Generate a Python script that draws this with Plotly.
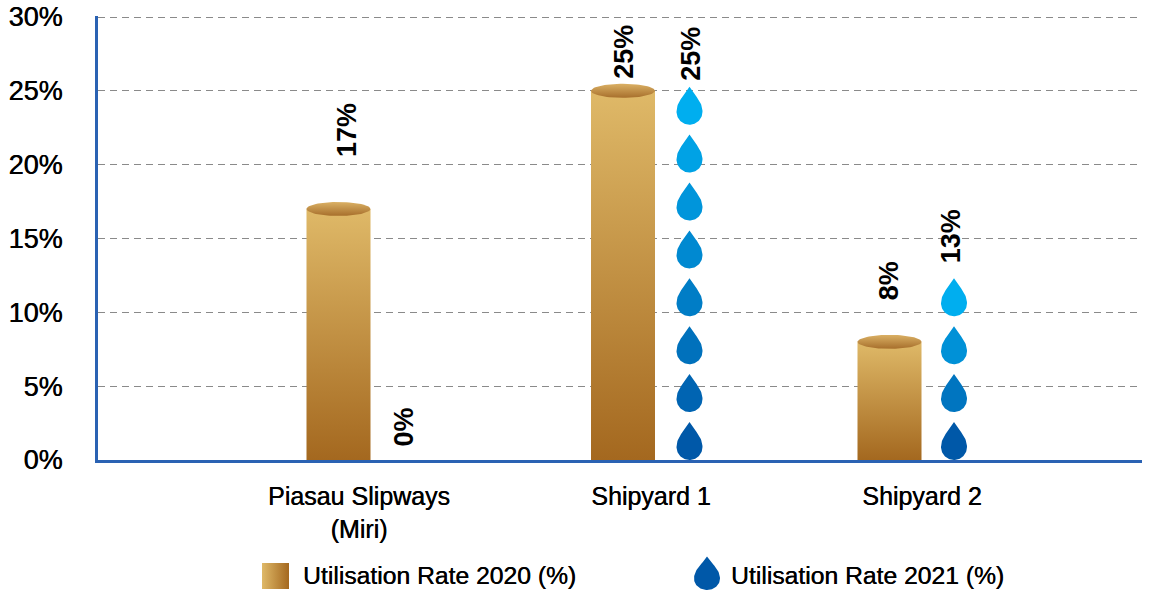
import math
import plotly.graph_objects as go

# Chart data
categories = ["Piasau Slipways<br>(Miri)", "Shipyard 1", "Shipyard 2"]
rate_2020 = [17, 25, 8]
rate_2021 = [0, 25, 13]
series_names = ["Utilisation Rate 2020 (%)", "Utilisation Rate 2021 (%)"]
y_ticks = [0, 5, 10, 15, 20, 25, 30]

# One drop stands for this many percentage points
DROP_UNIT = 3.25

# Page geometry, in pixels
W, H = 1155, 591
PLOT_L, PLOT_R, PLOT_T, PLOT_B = 98, 1142, 17, 460
# Slight headroom keeps the 30% gridline from being dropped at the axis end
Y_MAX = 30.1
PX_PER_UNIT = (PLOT_B - PLOT_T) / 30
PLOT_TOP = PLOT_B - Y_MAX * PX_PER_UNIT

# Horizontal placement along the category axis (axis units are pixels from the left spine)
tick_x = [261, 553, 824]
bar_x = [240.5, 525, 791.5]
drop_x = [306, 591.5, 856]
bar_label_x = [249, 526, 791]
drop_label_x = [306, 593, 853]
# Distance from the top of each mark up to its rotated label, in pixels
bar_label_lift = [50, 10, 39]
drop_label_lift = [11, 4, 13]

BAR_HALF = 32
CAP_HALF_PX = 7
DROP_HALF = 13
DROP_PX = 38
DROP_PITCH_PX = 47.9

GOLD_TOP, GOLD_BOTTOM = "#dfb968", "#a4681f"
CAP_TOP, CAP_BOTTOM = "#dab064", "#a76f2c"
BLUE_DARK, BLUE_LIGHT = (0, 88, 168), (0, 174, 239)
FONT = "Liberation Sans"
HEAVIER = "0.35px 0 0 #000000"


def blend(a, b, t):
    return "rgb({},{},{})".format(*[round(a[i] + (b[i] - a[i]) * t) for i in range(3)])


def drop_outline(steps=24):
    """Teardrop outline with a bulb of radius 1, tip pointing up."""
    r = 1.0
    h = DROP_PX / DROP_HALF
    pts = []
    # right flank, bezier from the tip down to the bulb
    p0, p1, p2, p3 = (0, h), (0.42, h - 0.7), (r, h - 1.15), (r, r)
    for i in range(steps + 1):
        t = i / steps
        u = 1 - t
        pts.append((
            u**3 * p0[0] + 3 * u*u*t * p1[0] + 3 * u*t*t * p2[0] + t**3 * p3[0],
            u**3 * p0[1] + 3 * u*u*t * p1[1] + 3 * u*t*t * p2[1] + t**3 * p3[1],
        ))
    # round bottom
    for i in range(1, steps * 2):
        a = math.pi * i / (steps * 2)
        pts.append((r * math.cos(a), r - r * math.sin(a)))
    # left flank mirrors the right one
    right = pts[:steps + 1]
    pts += [(-x, y) for x, y in reversed(right)]
    return pts


OUTLINE = drop_outline()

fig = go.Figure()


def add_filled(xs, ys, xa="x", ya="y", **kw):
    fig.add_trace(go.Scatter(
        x=xs, y=ys, mode="lines", fill="toself", line=dict(width=0),
        xaxis=xa, yaxis=ya, hoverinfo="skip", showlegend=False, **kw))


# Cylinders for 2020
for cx, v in zip(bar_x, rate_2020):
    add_filled(
        [cx - BAR_HALF, cx - BAR_HALF, cx + BAR_HALF, cx + BAR_HALF, cx - BAR_HALF],
        [0, v, v, 0, 0],
        fillgradient=dict(type="vertical", colorscale=[[0, GOLD_BOTTOM], [1, GOLD_TOP]]),
    )
    cap_r = CAP_HALF_PX / PX_PER_UNIT
    angles = [2 * math.pi * i / 72 for i in range(73)]
    add_filled(
        [cx + BAR_HALF * math.cos(a) for a in angles],
        [v + cap_r * math.sin(a) for a in angles],
        fillgradient=dict(type="vertical", colorscale=[[0, CAP_BOTTOM], [1, CAP_TOP]]),
    )

# Stacks of drops for 2021
for cx, v in zip(drop_x, rate_2021):
    n = round(v / DROP_UNIT)
    for k in range(n):
        base = k * DROP_PITCH_PX / PX_PER_UNIT
        colour = blend(BLUE_DARK, BLUE_LIGHT, k / (n - 1) if n > 1 else 1)
        add_filled(
            [cx + DROP_HALF * x for x, _ in OUTLINE],
            [base + y * DROP_HALF / PX_PER_UNIT for _, y in OUTLINE],
            fillcolor=colour,
        )


def stack_top(v):
    n = round(v / DROP_UNIT)
    return ((n - 1) * DROP_PITCH_PX + DROP_PX) / PX_PER_UNIT if n else 0


label_font = dict(family=FONT, size=27, color="#000000", weight="bold")
annotations = []
for x, v, lift in zip(bar_label_x, rate_2020, bar_label_lift):
    annotations.append(dict(x=x, y=v, xref="x", yref="y", text=f"{v}%", textangle=-90,
                            showarrow=False, yanchor="bottom", yshift=lift, font=label_font))
for x, v, lift in zip(drop_label_x, rate_2021, drop_label_lift):
    annotations.append(dict(x=x, y=stack_top(v), xref="x", yref="y", text=f"{v}%", textangle=-90,
                            showarrow=False, yanchor="bottom", yshift=lift, font=label_font))

# Hand-built legend, on a full-page pixel axis pair
add_filled([262, 262, 289, 289, 262], [563, 589, 589, 563, 563], "x2", "y2",
           fillgradient=dict(type="horizontal", colorscale=[[0, GOLD_TOP], [1, GOLD_BOTTOM]]))
add_filled([707 + DROP_HALF * x for x, _ in OUTLINE],
           [590 - y * DROP_HALF * 0.88 for _, y in OUTLINE], "x2", "y2",
           fillcolor=blend(BLUE_DARK, BLUE_LIGHT, 0))
for lx, name in zip([301, 729], series_names):
    annotations.append(dict(x=lx, y=575, xref="x2", yref="y2", text=name, showarrow=False,
                            xanchor="left", yanchor="middle",
                            font=dict(family=FONT, size=24.7, color="#000000", shadow=HEAVIER)))

AXIS_BLUE = "#2a62b3"
fig.update_layout(
    width=W, height=H, autosize=False,
    margin=dict(l=0, r=0, t=0, b=0, pad=0, autoexpand=False),
    paper_bgcolor="white", plot_bgcolor="rgba(0,0,0,0)",
    showlegend=False, hovermode=False,
    annotations=annotations,
    xaxis=dict(
        domain=[PLOT_L / W, PLOT_R / W], range=[0, PLOT_R - PLOT_L],
        tickmode="array", tickvals=tick_x, ticktext=categories,
        tickfont=dict(family=FONT, size=25, color="#000000", shadow=HEAVIER),
        ticks="", ticklabelstandoff=12,
        showgrid=False, zeroline=False, automargin=False,
        showline=True, linecolor=AXIS_BLUE, linewidth=3, anchor="y",
    ),
    yaxis=dict(
        domain=[1 - PLOT_B / H, 1 - PLOT_TOP / H], range=[0, Y_MAX],
        tickmode="array", tickvals=y_ticks, ticktext=[f"{t}%" for t in y_ticks],
        tickfont=dict(family=FONT, size=27, color="#000000", shadow=HEAVIER),
        ticks="", ticklabelstandoff=27,
        showgrid=True, gridcolor="#8a8a8a", gridwidth=1, griddash="7px,5px",
        zeroline=False, automargin=False,
        showline=True, linecolor=AXIS_BLUE, linewidth=3, anchor="x",
    ),
    xaxis2=dict(domain=[0, 1], range=[0, W], visible=False, fixedrange=True, anchor="y2"),
    yaxis2=dict(domain=[0, 1], range=[H, 0], visible=False, fixedrange=True, anchor="x2"),
)

fig.write_html("out.html")
